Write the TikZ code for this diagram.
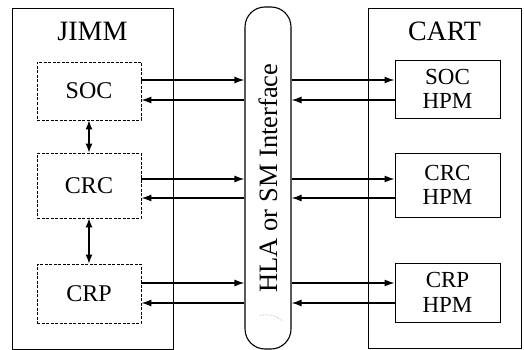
\documentclass[tikz,border=0pt]{standalone}
\usepackage{fontspec}
\setmainfont{Liberation Serif}
\usetikzlibrary{arrows.meta,positioning}
\begin{document}
\begin{tikzpicture}[x=1pt, y=-1pt,
  grp/.style={draw, line width=0.9pt},
  sub/.style={draw, dash pattern=on 3pt off 1.5pt, line width=0.8pt,
              minimum width=104pt, font=\fontsize{24}{24}\selectfont},
  hpm/.style={draw, line width=0.9pt, minimum width=105pt, align=center,
              inner sep=1pt, font=\fontsize{23}{24.5}\selectfont},
  title/.style={font=\fontsize{28}{28}\selectfont},
  arr/.style={-{Latex[length=10pt,width=7pt]}, line width=1.3pt},
  dbl/.style={{Latex[length=9pt,width=7pt]}-{Latex[length=9pt,width=7pt]}, line width=1.3pt}]
  \useasboundingbox (0,0) rectangle (524,350);
  % JIMM column
  \node[grp, minimum width=161pt, minimum height=341pt] (jimm) at (92.5,178.5) {};
  \node[title, below=11pt of jimm.north] (jimmlbl) {JIMM};
  \node[sub, minimum height=58pt] (soc) at (89,91) {SOC};
  \node[sub, minimum height=65pt] (crc) at (89,185.5) {CRC};
  \node[sub, minimum height=59pt] (crp) at (89,293.5) {CRP};
  \draw[dbl] (soc) -- (crc);
  \draw[dbl] (crc) -- (crp);
  % interface bus
  \node[draw, line width=1.1pt, rounded corners=20pt, minimum width=46pt,
        minimum height=342pt, font=\fontsize{26.5}{26.5}\selectfont] (iface) at (268,178)
     {\rotatebox{90}{HLA or SM Interface}};
  \draw[black!35, densely dotted, line width=0.6pt]
     ([shift={(-8pt,34pt)}]iface.south) to[bend left=25] ([shift={(14pt,29pt)}]iface.south);
  % CART column
  \node[grp, minimum width=153pt, minimum height=340pt] (cart) at (444.5,178) {};
  \node[title, below=11pt of cart.north] (cartlbl) {CART};
  \node[hpm, minimum height=58pt] (sochpm) at (447.5,89) {SOC\\HPM};
  \node[hpm, minimum height=64pt] (crchpm) at (447.5,185) {CRC\\HPM};
  \node[hpm, minimum height=59pt] (crphpm) at (447.5,292.5) {CRP\\HPM};
  % links through the bus
  \foreach \l/\r/\up/\dn in {soc/sochpm/11/9, crc/crchpm/6.5/12.5, crp/crphpm/10.5/9.5}{
    \draw[arr] ([yshift=\up pt]\l.east) -- ([yshift=\up pt]\l.east -| iface.west);
    \draw[arr] ([yshift=-\dn pt]\l.east -| iface.west) -- ([yshift=-\dn pt]\l.east);
    \draw[arr] ([yshift=\up pt]\l.east -| iface.east) -- ([yshift=\up pt]\l.east -| \r.west);
    \draw[arr] ([yshift=-\dn pt]\l.east -| \r.west) -- ([yshift=-\dn pt]\l.east -| iface.east);
  }
\end{tikzpicture}
\end{document}
